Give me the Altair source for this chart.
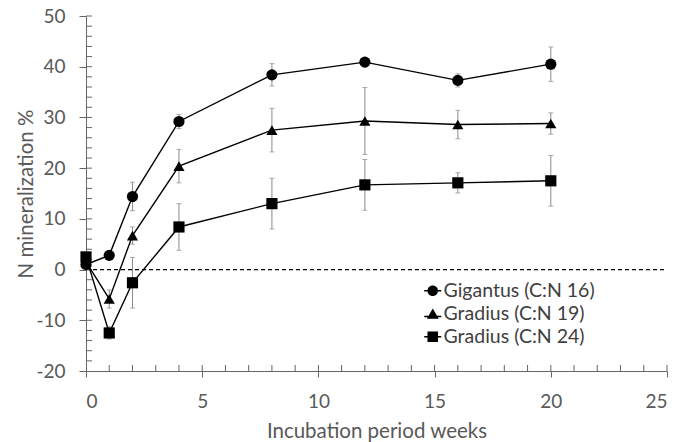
import altair as alt
import pandas as pd

# Incubation time points (weeks)
weeks = [0, 1, 2, 4, 8, 12, 16, 20]

series_names = ["Gigantus (C:N 16)", "Gradius (C:N 19)", "Gradius (C:N 24)"]

# Mean N mineralization (%) and error-bar half widths per series
gigantus_16 = [1.0, 2.8, 14.4, 29.2, 38.4, 40.9, 37.3, 40.5]
gigantus_16_err = [0.4, 0.5, 2.8, 1.4, 2.2, 0.6, 1.3, 3.4]
gradius_19 = [1.5, -5.8, 6.7, 20.4, 27.5, 29.3, 28.6, 28.8]
gradius_19_err = [0.4, 1.8, 1.7, 3.3, 4.3, 6.6, 2.8, 2.1]
gradius_24 = [2.5, -12.5, -2.6, 8.4, 13.0, 16.7, 17.1, 17.5]
gradius_24_err = [0.5, 1.2, 5.0, 4.6, 5.0, 5.0, 2.0, 5.0]

# Axis ticks
x_major = [0, 5, 10, 15, 20, 25]
y_major = [-20, -10, 0, 10, 20, 30, 40, 50]
x_minor = list(range(1, 26))
y_minor = list(range(-18, 52, 2))

rows = []
for name, vals, errs in zip(series_names,
                            [gigantus_16, gradius_19, gradius_24],
                            [gigantus_16_err, gradius_19_err, gradius_24_err]):
    for w, v, e in zip(weeks, vals, errs):
        rows.append({"series": name, "week": w, "value": v,
                     "lo": v - e, "hi": v + e})
df = pd.DataFrame(rows)

FONT = "Lato"
GRAY_TXT = "#595959"
AXIS_COL = "#666666"

xscale = alt.Scale(domain=[0, 25], nice=False, zero=False)
yscale = alt.Scale(domain=[-20, 50], nice=False, zero=False)

x_enc = alt.X("week:Q", scale=xscale,
              axis=alt.Axis(values=x_major, title="Incubation period weeks",
                            grid=False, tickSize=6, labelPadding=30,
                            labelBaseline="alphabetic",
                            titleBaseline="alphabetic", titleY=66))
y_enc = alt.Y("value:Q", scale=yscale,
              axis=alt.Axis(values=y_major, title="N mineralization %",
                            grid=False, tickSize=7, labelPadding=14,
                            labelExpr="toString(datum.value)",
                            titleX=-50, titleY=177.5))

base = alt.Chart(df)

err_rule = base.mark_rule(color="#8a8a8a", strokeWidth=1).encode(
    x=x_enc, y=alt.Y("lo:Q", scale=yscale), y2="hi:Q")
err_lo = base.mark_tick(color="#8a8a8a", thickness=1, size=5,
                        orient="horizontal").encode(
    x="week:Q", y=alt.Y("lo:Q", scale=yscale))
err_hi = base.mark_tick(color="#8a8a8a", thickness=1, size=5,
                        orient="horizontal").encode(
    x="week:Q", y=alt.Y("hi:Q", scale=yscale))

lines = base.mark_line(color="black", strokeWidth=1.4).encode(
    x=x_enc, y=y_enc, detail="series:N")

points = base.mark_point(filled=True, color="black", opacity=1).encode(
    x="week:Q", y="value:Q",
    shape=alt.Shape("series:N",
                    scale=alt.Scale(domain=series_names,
                                    range=["circle", "triangle-up", "square"]),
                    legend=None),
    size=alt.value(125))

# Legend symbols: a thin bar (the line) joined with the marker, all filled
bar = "M-1,-0.085H1V0.085H-1Z"
legend_paths = [
    bar + "M0.62,0A0.62,0.62,0,1,1,-0.62,0A0.62,0.62,0,1,1,0.62,0Z",
    "M-1,0.24H1V0.41H-1Z" + "M0,-0.62L0.7,0.58L-0.7,0.58Z",
    bar + "M-0.62,-0.62H0.62V0.62H-0.62Z",
]
legend_layer = base.mark_point(filled=True, color="black", opacity=0).encode(
    x="week:Q", y="value:Q",
    shape=alt.Shape("series:N",
                    scale=alt.Scale(domain=series_names, range=legend_paths),
                    legend=alt.Legend(
                        title=None, orient="none",
                        legendX=337, legendY=265,
                        symbolSize=290, symbolFillColor="black",
                        symbolStrokeColor="black",
                        symbolStrokeWidth=0, symbolOpacity=1,
                        labelFont=FONT, labelFontSize=19.5,
                        labelColor="#404040", labelOffset=1,
                        rowPadding=2, padding=0)))

zero_df = pd.DataFrame({"x0": [0], "x1": [25], "y0": [0]})
zero_line = alt.Chart(zero_df).mark_rule(
    color="black", strokeDash=[4, 3], strokeWidth=1.2).encode(
    x=alt.X("x0:Q", scale=xscale), x2="x1:Q", y=alt.Y("y0:Q", scale=yscale))

# Inner tick marks along both axes
xt = alt.Chart(pd.DataFrame({"t": x_minor})).mark_rule(
    color=AXIS_COL, strokeWidth=1).encode(
    x=alt.X("t:Q", scale=xscale), y=alt.value(349), y2=alt.value(355))
yt = alt.Chart(pd.DataFrame({"t": y_minor})).mark_rule(
    color=AXIS_COL, strokeWidth=1).encode(
    y=alt.Y("t:Q", scale=yscale), x=alt.value(0), x2=alt.value(6))

chart = alt.layer(
    zero_line, xt, yt, err_rule, err_lo, err_hi, lines, points, legend_layer
).resolve_scale(shape="independent").properties(
    width=581, height=355,
    autosize=alt.AutoSizeParams(type="none"),
    padding={"left": 86, "top": 16, "right": 25, "bottom": 71},
).configure_view(stroke=None).configure_axis(
    domainColor=AXIS_COL, tickColor=AXIS_COL, domainWidth=1, tickWidth=1,
    labelFont=FONT, labelFontSize=19, labelColor=GRAY_TXT,
    titleFont=FONT, titleFontSize=20.5, titleColor=GRAY_TXT,
    titleFontWeight="normal",
)

chart.save("out.html", embed_options={"renderer": "svg", "actions": False})
